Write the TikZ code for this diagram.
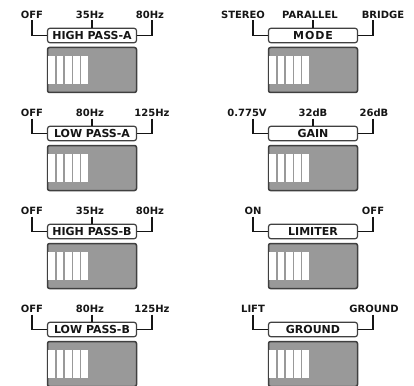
\documentclass[tikz,border=0pt]{standalone}
\usepackage{fontspec}
\setmainfont{DejaVu Sans}
\usetikzlibrary{calc}
\definecolor{ink}{HTML}{151515}
\definecolor{edge}{HTML}{404040}
\definecolor{swgray}{HTML}{999999}
\tikzset{
  toplbl/.style={font=\fontsize{10}{11}\selectfont\bfseries, text=ink, inner sep=0pt, anchor=base},
  lblbox/.style={draw=edge, line width=1.2pt, fill=white, rounded corners=2.5pt,
    minimum width=89pt, minimum height=14.5pt, inner sep=0pt,
    font=\fontsize{11}{12}\selectfont\bfseries, text=ink},
  swbox/.style={draw=edge, line width=1.5pt, fill=swgray, rounded corners=2pt,
    minimum width=89pt, minimum height=45pt, inner sep=0pt},
  brk/.style={draw=ink, line width=1.2pt},
}
\newcommand{\dippanel}[4]{%
  \node[lblbox] (#1box) at (#2,35.5+#3) {#4};
  \node[swbox] (#1sw) at (#2,70+#3) {};
  \foreach \i in {0,...,4}
    \fill[white] ($(#1sw.north west)+(1.6+8.2*\i,9.5)$) rectangle ++(6.8,27.5);
}
\begin{document}
\begin{tikzpicture}[x=1pt,y=-1pt]
\useasboundingbox (0,0) rectangle (414,385);
% ---------- left column ----------
\dippanel{la}{92}{0}{HIGH PASS-A}
\node[toplbl] (la1) at (32,18.8) {OFF};
\node[toplbl] (la2) at (90,18.8) {35Hz};
\node[toplbl] (la3) at (150,18.8) {80Hz};
\coordinate (laL) at (32,20.5); \coordinate (laM) at (92,20.5); \coordinate (laR) at (152,20.5);
\draw[brk] (laL) |- (labox.west); \draw[brk] (laM) -- (labox.north); \draw[brk] (laR) |- (labox.east);

\dippanel{lb}{92}{98}{LOW PASS-A}
\node[toplbl] (lb1) at (32,116.8) {OFF};
\node[toplbl] (lb2) at (90,116.8) {80Hz};
\node[toplbl] (lb3) at (152,116.8) {125Hz};
\coordinate (lbL) at (32,118.5); \coordinate (lbM) at (92,118.5); \coordinate (lbR) at (152,118.5);
\draw[brk] (lbL) |- (lbbox.west); \draw[brk] (lbM) -- (lbbox.north); \draw[brk] (lbR) |- (lbbox.east);

\dippanel{lc}{92}{196}{HIGH PASS-B}
\node[toplbl] (lc1) at (32,214.8) {OFF};
\node[toplbl] (lc2) at (90,214.8) {35Hz};
\node[toplbl] (lc3) at (150,214.8) {80Hz};
\coordinate (lcL) at (32,216.5); \coordinate (lcM) at (92,216.5); \coordinate (lcR) at (152,216.5);
\draw[brk] (lcL) |- (lcbox.west); \draw[brk] (lcM) -- (lcbox.north); \draw[brk] (lcR) |- (lcbox.east);

\dippanel{ld}{92}{294}{LOW PASS-B}
\node[toplbl] (ld1) at (32,312.8) {OFF};
\node[toplbl] (ld2) at (90,312.8) {80Hz};
\node[toplbl] (ld3) at (152,312.8) {125Hz};
\coordinate (ldL) at (32,314.5); \coordinate (ldM) at (92,314.5); \coordinate (ldR) at (152,314.5);
\draw[brk] (ldL) |- (ldbox.west); \draw[brk] (ldM) -- (ldbox.north); \draw[brk] (ldR) |- (ldbox.east);

% ---------- right column ----------
\dippanel{ra}{313}{0}{\addfontfeature{LetterSpace=8}MODE}
\node[toplbl] (ra1) at (243,18.8) {STEREO};
\node[toplbl] (ra2) at (310,18.8) {PARALLEL};
\node[toplbl] (ra3) at (383,18.8) {BRIDGE};
\coordinate (raL) at (253,20.5); \coordinate (raM) at (313,20.5); \coordinate (raR) at (373,20.5);
\draw[brk] (raL) |- (rabox.west); \draw[brk] (raM) -- (rabox.north); \draw[brk] (raR) |- (rabox.east);

\dippanel{rb}{313}{98}{GAIN}
\node[toplbl] (rb1) at (247,116.8) {0.775V};
\node[toplbl] (rb2) at (313,116.8) {32dB};
\node[toplbl] (rb3) at (374,116.8) {26dB};
\coordinate (rbL) at (253,118.5); \coordinate (rbM) at (313,118.5); \coordinate (rbR) at (373,118.5);
\draw[brk] (rbL) |- (rbbox.west); \draw[brk] (rbM) -- (rbbox.north); \draw[brk] (rbR) |- (rbbox.east);

\dippanel{rc}{313}{196}{LIMITER}
\node[toplbl] (rc1) at (253,214.8) {ON};
\node[toplbl] (rc3) at (373,214.8) {OFF};
\coordinate (rcL) at (253,216.5); \coordinate (rcR) at (373,216.5);
\draw[brk] (rcL) |- (rcbox.west); \draw[brk] (rcR) |- (rcbox.east);

\dippanel{rd}{313}{294}{GROUND}
\node[toplbl] (rd1) at (253,312.8) {LIFT};
\node[toplbl] (rd3) at (374,312.8) {GROUND};
\coordinate (rdL) at (253,314.5); \coordinate (rdR) at (373,314.5);
\draw[brk] (rdL) |- (rdbox.west); \draw[brk] (rdR) |- (rdbox.east);
\end{tikzpicture}
\end{document}
